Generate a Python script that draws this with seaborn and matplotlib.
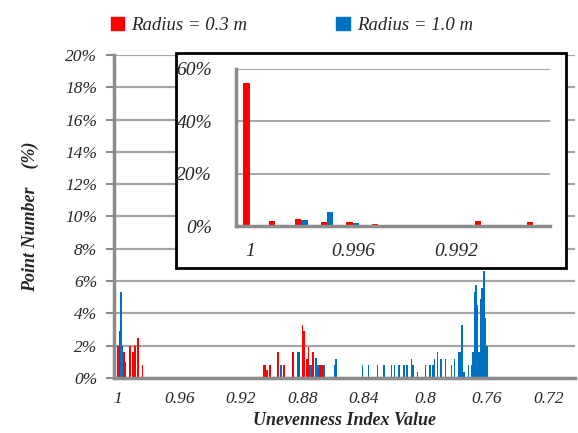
import numpy as np
import pandas as pd
import matplotlib
matplotlib.use('Agg')
import matplotlib.pyplot as plt
import seaborn as sns
from matplotlib.patches import Patch, Rectangle
from matplotlib.ticker import PercentFormatter

# --- dados ---
red_main_x = [1.000, 0.999, 0.996, 0.995, 0.992, 0.990, 0.989, 0.987, 0.984,
              0.905, 0.904, 0.903, 0.901, 0.896, 0.892, 0.886, 0.882, 0.880,
              0.879, 0.877, 0.876, 0.873, 0.869, 0.868, 0.867]
red_main_y = [2.0, 2.9, 1.6, 1.0, 2.0, 1.6, 2.0, 2.5, 0.8,
              0.8, 0.8, 0.5, 0.8, 1.6, 0.8, 1.6, 1.6, 3.3,
              2.9, 1.2, 1.9, 1.6, 0.8, 0.8, 0.8]

blue_main_x = [0.998, 0.997, 0.894, 0.883, 0.875, 0.874, 0.871, 0.870, 0.866,
               0.859, 0.858, 0.841, 0.837, 0.831, 0.827, 0.822, 0.820, 0.817,
               0.814, 0.812, 0.809, 0.808, 0.805, 0.800, 0.797, 0.795, 0.794,
               0.792, 0.790, 0.787, 0.783, 0.781, 0.778, 0.777, 0.776, 0.775,
               0.772, 0.770, 0.769, 0.768, 0.767, 0.766, 0.765, 0.764, 0.763,
               0.762, 0.761, 0.760]
blue_main_y = [5.3, 2.0, 0.8, 1.6, 0.8, 0.8, 1.25, 0.8, 0.8,
               0.8, 1.2, 0.8, 0.8, 0.8, 0.8, 0.8, 0.8, 0.8,
               0.8, 0.8, 1.2, 0.8, 0.4, 0.8, 0.8, 0.8, 1.2,
               1.6, 1.2, 1.2, 0.8, 1.2, 1.6, 1.6, 3.3, 0.4,
               0.8, 0.8, 1.6, 5.3, 5.75, 4.5, 1.6, 4.9, 5.55,
               6.6, 3.7, 2.0]

red_inset_x = [1.000, 0.999, 0.998, 0.997, 0.996, 0.995, 0.991, 0.989]
red_inset_y = [54.5, 2.0, 2.8, 1.6, 1.7, 0.8, 1.8, 1.6]
blue_inset_x = [0.998, 0.997, 0.996]
blue_inset_y = [2.4, 5.3, 1.0]

labels = ['Radius = 0.3 m', 'Radius = 1.0 m']
colors = {labels[0]: '#FF0000', labels[1]: '#0070C0'}

main_ticks = [1, 0.96, 0.92, 0.88, 0.84, 0.8, 0.76, 0.72]
main_ticklabels = ['1', '0.96', '0.92', '0.88', '0.84', '0.8', '0.76', '0.72']
inset_ticks = [1, 0.996, 0.992]
inset_ticklabels = ['1', '0.996', '0.992']

df_main = pd.DataFrame({
    'valor': red_main_x + blue_main_x,
    'pct': red_main_y + blue_main_y,
    'raio': [labels[0]] * len(red_main_x) + [labels[1]] * len(blue_main_x),
})
df_inset = pd.DataFrame({
    'valor': red_inset_x + blue_inset_x,
    'pct': red_inset_y + blue_inset_y,
    'raio': [labels[0]] * len(red_inset_x) + [labels[1]] * len(blue_inset_x),
})

sns.set_style('white')
plt.rcParams['font.family'] = ['Liberation Serif', 'DejaVu Serif']
plt.rcParams['font.style'] = 'italic'

grid_c = '#A6A6A6'
spine_c = '#8C8C8C'

fig = plt.figure(figsize=(5.78, 4.33), dpi=100)

# --- gráfico principal ---
ax = fig.add_axes([0.197, 0.127, 0.798, 0.746])
sns.histplot(data=df_main, x='valor', weights='pct', hue='raio',
             hue_order=[labels[1], labels[0]], palette=colors,
             binwidth=0.001, binrange=(0.6995, 1.0005), multiple='layer',
             shrink=1, alpha=1, linewidth=0, legend=False, ax=ax)
ax.set_xlim(1.0026, 0.7026)
ax.set_ylim(0, 20)
ax.set_yticks(np.arange(0, 21, 2))
ax.yaxis.set_major_formatter(PercentFormatter(decimals=0))
ax.set_xticks(main_ticks)
ax.set_xticklabels(main_ticklabels)
ax.grid(axis='y', color=grid_c, lw=1.6)
ax.set_axisbelow(True)
for s in ['top', 'right']:
    ax.spines[s].set_visible(False)
for s in ['left', 'bottom']:
    ax.spines[s].set_color(spine_c)
    ax.spines[s].set_linewidth(2.5)
ax.tick_params(axis='y', direction='out', length=6, width=1.5, color=spine_c,
               labelsize=12.5, pad=6, left=True)
ax.tick_params(axis='x', length=0, labelsize=12.5, pad=9)
ax.set_xlabel('Unevenness Index Value', fontsize=13, fontweight='bold', labelpad=4)
ax.set_ylabel('Point Number    (%)', fontsize=13, fontweight='bold', labelpad=19)

# --- moldura do detalhe ---
box = Rectangle((0.3045, 0.381), 0.674, 0.497, transform=fig.transFigure,
                facecolor='white', edgecolor='black', lw=2, zorder=1)
fig.patches.append(box)

# --- detalhe (inset) ---
axi = fig.add_axes([0.408, 0.478, 0.543, 0.363], zorder=2)
sns.histplot(data=df_inset, x='valor', weights='pct', hue='raio',
             hue_order=[labels[1], labels[0]], palette=colors,
             binwidth=0.001, binrange=(0.9875, 1.0005), multiple='dodge',
             shrink=0.5, alpha=1, linewidth=0, legend=False, ax=axi)
axi.set_xlim(1.00054, 0.98835)
axi.set_ylim(0, 60)
axi.set_yticks([0, 20, 40, 60])
axi.yaxis.set_major_formatter(PercentFormatter(decimals=0))
axi.set_xticks(inset_ticks)
axi.set_xticklabels(inset_ticklabels)
axi.grid(axis='y', color=grid_c, lw=1.4)
axi.set_axisbelow(True)
axi.patch.set_alpha(0)
for s in ['top', 'right']:
    axi.spines[s].set_visible(False)
for s in ['left', 'bottom']:
    axi.spines[s].set_color(spine_c)
    axi.spines[s].set_linewidth(2.5)
axi.tick_params(axis='y', length=0, labelsize=14, pad=17)
axi.tick_params(axis='x', length=0, labelsize=14, pad=12)
axi.set_xlabel('')
axi.set_ylabel('')

# --- legenda ---
handles = [Patch(color=colors[l]) for l in labels]
fig.legend(handles, labels, loc='center', bbox_to_anchor=(0.505, 0.942), ncol=2,
           frameon=False, fontsize=13.5, handlelength=0.7, handleheight=0.7,
           handletextpad=0.4, columnspacing=4.75)

plt.savefig('out.png', dpi=100)
